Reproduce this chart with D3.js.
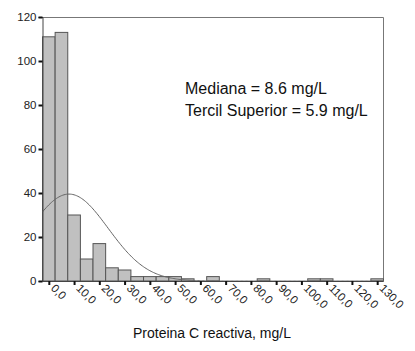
<!DOCTYPE html>
<html>
<head>
<meta charset="utf-8">
<script src="https://cdn.jsdelivr.net/npm/d3@7"></script>
<style>
  body { margin: 0; background: #fff; }
  svg { display: block; font-family: "Liberation Sans", Arial, sans-serif; }
</style>
</head>
<body>
<div id="chart"></div>
<script>
// histogram bins (midpoints) and counts
const binMids = [0, 5, 10, 15, 20, 25, 30, 35, 40, 45, 50, 55, 60, 65, 70, 75, 80, 85, 90, 95, 100, 105, 110, 115, 120, 125, 130]
const binCounts = [111, 113, 30, 10, 17, 6, 5, 2, 2, 2, 2, 1, 0, 2, 0, 0, 0, 1, 0, 0, 0, 1, 1, 0, 0, 0, 1]
const binWidth = 5

// fitted normal curve parameters
const curveMean = 8.0
const curveSd = 15.5
const curveN = 307

const xTicks = [0, 10, 20, 30, 40, 50, 60, 70, 80, 90, 100, 110, 120, 130]
const yTicks = [0, 20, 40, 60, 80, 100, 120]
const notes = ["Mediana = 8.6 mg/L", "Tercil Superior = 5.9 mg/L"]
const xTitle = "Proteina C reactiva, mg/L"

const W = 415, H = 351
const margin = { top: 17, right: 31.5, bottom: 70, left: 42.5 }
const width = W - margin.left - margin.right
const height = H - margin.top - margin.bottom

const svg = d3.select("#chart").append("svg")
    .attr("width", W)
    .attr("height", H)

const g = svg.append("g")
    .attr("transform", "translate(" + margin.left + "," + margin.top + ")")

const x = d3.scaleLinear()
    .domain([-2.5, 132.5])
    .range([0, width])

const y = d3.scaleLinear()
    .domain([0, 120])
    .range([height, 0])

// frame (top + right)
g.append("path")
    .attr("d", `M0,0.5H${width}V${height}`)
    .attr("fill", "none")
    .attr("stroke", "#777")
    .attr("stroke-width", 1)

// bars
g.selectAll("rect.bar")
    .data(binMids.map((m, i) => ({ mid: m, count: binCounts[i] })).filter(d => d.count > 0))
    .enter().append("rect")
    .attr("class", "bar")
    .attr("x", d => x(d.mid - binWidth / 2))
    .attr("width", d => x(d.mid + binWidth / 2) - x(d.mid - binWidth / 2))
    .attr("y", d => y(d.count))
    .attr("height", d => height - y(d.count))
    .attr("fill", "#c0c0c0")
    .attr("stroke", "#555")
    .attr("stroke-width", 1)

// normal curve
const curvePts = d3.range(-2.5, 132.6, 0.5).map(v => ({
    v: v,
    c: curveN * binWidth / (curveSd * Math.sqrt(2 * Math.PI)) * Math.exp(-0.5 * Math.pow((v - curveMean) / curveSd, 2))
}))
g.append("path")
    .datum(curvePts)
    .attr("fill", "none")
    .attr("stroke", "#666")
    .attr("stroke-width", 1)
    .attr("d", d3.line()
        .x(d => x(d.v))
        .y(d => y(d.c)))

// y axis
const yAxis = g.append("g")
    .call(d3.axisLeft(y).tickValues(yTicks).tickSize(4).tickPadding(2))
yAxis.select(".domain").attr("stroke", "#444")
yAxis.selectAll(".tick line").attr("stroke", "#111").attr("stroke-width", 2)
yAxis.selectAll("text")
    .attr("font-size", 11.5)
    .attr("font-family", "Liberation Sans, Arial, sans-serif")
    .attr("fill", "#222")

// x axis
const xAxis = g.append("g")
    .attr("transform", `translate(0,${height})`)
    .call(d3.axisBottom(x).tickValues(xTicks).tickSize(4).tickFormat(d3.format(".1f")))
xAxis.select(".domain").attr("stroke", "#444").attr("d", `M0,0.5H${width}`)
xAxis.selectAll(".tick line").attr("stroke", "#111").attr("stroke-width", 2)
xAxis.selectAll("text")
    .text(d => d3.format(".1f")(d).replace(".", ","))
    .attr("font-size", 11.5)
    .attr("font-family", "Liberation Sans, Arial, sans-serif")
    .attr("fill", "#222")
    .attr("text-anchor", "start")
    .attr("dy", null)
    .attr("y", 0)
    .attr("transform", "translate(1,8) rotate(45)")

// annotation
g.selectAll("text.note")
    .data(notes)
    .enter().append("text")
    .attr("class", "note")
    .attr("x", 142.5)
    .attr("y", (d, i) => 77 + i * 22)
    .attr("font-size", 16)
    .attr("fill", "#111")
    .text(d => d)

// x title
svg.append("text")
    .attr("x", 212)
    .attr("y", 338)
    .attr("text-anchor", "middle")
    .attr("font-size", 14)
    .attr("fill", "#111")
    .text(xTitle)
</script>
</body>
</html>
